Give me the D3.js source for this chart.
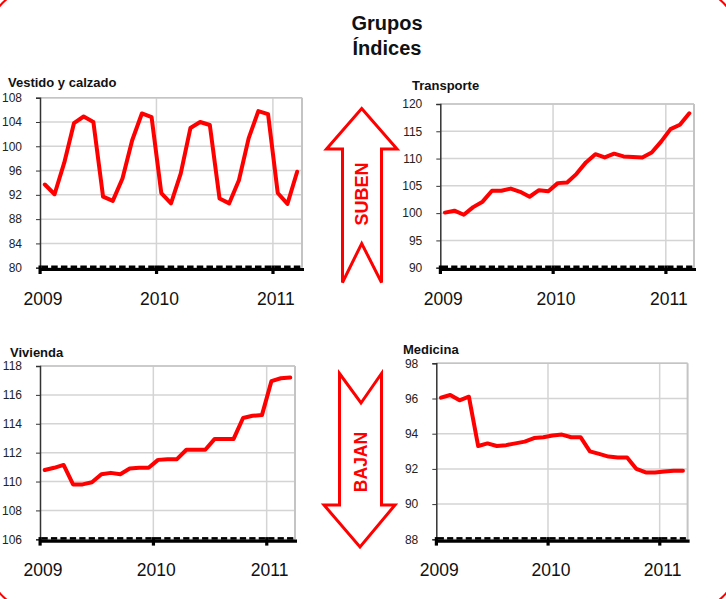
<!DOCTYPE html>
<html><head><meta charset="utf-8">
<script src="https://cdn.jsdelivr.net/npm/d3@7"></script>
<style>body{margin:0;background:#fff}svg{display:block;font-family:"Liberation Sans",Arial,sans-serif}</style>
</head><body><svg id="c" width="726" height="599"></svg>
<script>
// ---- data ----
const months = d3.range(27).map(i => new Date(2009, i, 1)); // Jan 2009 .. Mar 2011
const yearLabels = ["2009", "2010", "2011"];
const vestido = [93.7,92.1,97.3,103.8,104.9,104.0,91.7,91.0,94.7,101.0,105.4,104.8,92.3,90.6,95.5,103.0,104.0,103.5,91.4,90.6,94.4,101.3,105.8,105.3,92.3,90.5,95.8];
const transporte = [100.1,100.45,99.7,101.1,102.1,104.1,104.1,104.5,103.9,103.0,104.2,104.0,105.5,105.6,107.2,109.3,110.8,110.2,110.9,110.4,110.3,110.2,111.1,113.1,115.4,116.2,118.3];
const vivienda = [110.8,110.95,111.15,109.8,109.8,109.95,110.5,110.6,110.5,110.9,110.95,110.95,111.5,111.55,111.55,112.2,112.2,112.2,112.95,112.95,112.95,114.4,114.55,114.6,116.95,117.15,117.2];
const medicina = [96.05,96.2,95.9,96.1,93.3,93.45,93.3,93.35,93.45,93.55,93.75,93.8,93.9,93.95,93.8,93.8,93.0,92.85,92.7,92.65,92.65,92.0,91.8,91.8,91.85,91.9,91.9];
const vestidoTicks = [80,84,88,92,96,100,104,108];
const transporteTicks = [90,95,100,105,110,115,120];
const viviendaTicks = [106,108,110,112,114,116,118];
const medicinaTicks = [88,90,92,94,96,98];
const titles = ["Vestido y calzado","Transporte","Vivienda","Medicina"];

const svg = d3.select("#c");
const RED = "#ff0000";

// outer rounded border (mostly outside the view, only corners show)
svg.append("rect").attr("x",-9).attr("y",-9).attr("width",744).attr("height",617)
  .attr("rx",40).attr("fill","none").attr("stroke",RED).attr("stroke-width",2);

// main title
svg.append("text").attr("x",387).attr("y",30).attr("text-anchor","middle")
  .attr("font-size",20).attr("font-weight","bold").attr("fill","#111").text("Grupos");
svg.append("text").attr("x",387).attr("y",55).attr("text-anchor","middle")
  .attr("font-size",20).attr("font-weight","bold").attr("fill","#111").text("Índices");

const panels = [
  {title:titles[0], data:vestido, ticks:vestidoTicks, L:40, R:302, T:97.7, B:267.7, tx:8, ty:87},
  {title:titles[1], data:transporte, ticks:transporteTicks, L:440.3, R:694, T:104, B:267.7, tx:412, ty:90},
  {title:titles[2], data:vivienda, ticks:viviendaTicks, L:40, R:295, T:366, B:539.3, tx:10, ty:357},
  {title:titles[3], data:medicina, ticks:medicinaTicks, L:436.3, R:687.6, T:363.3, B:539.3, tx:403, ty:354}
];

panels.forEach(p => {
  const g = svg.append("g");
  const x = d3.scaleBand().domain(months).range([p.L, p.R]).padding(0);
  const y = d3.scaleLinear().domain(d3.extent(p.ticks)).range([p.B, p.T]);
  const cx = d => x(d) + x.bandwidth()/2;
  const yearStarts = months.filter(m => m.getMonth() === 0);

  // horizontal grid
  g.selectAll("line.hg").data(p.ticks).join("line")
    .attr("x1",p.L).attr("x2",p.R).attr("y1",d=>y(d)).attr("y2",d=>y(d))
    .attr("stroke","#d4d4d4").attr("stroke-width",1.5);
  // vertical grid at years
  g.selectAll("line.vg").data(yearStarts.slice(1)).join("line")
    .attr("x1",d=>x(d)).attr("x2",d=>x(d)).attr("y1",p.T).attr("y2",p.B)
    .attr("stroke","#d4d4d4").attr("stroke-width",1.5);
  // right / top border
  g.append("line").attr("x1",p.R).attr("x2",p.R).attr("y1",p.T).attr("y2",p.B)
    .attr("stroke","#c4c4c4").attr("stroke-width",2);
  g.append("line").attr("x1",p.L).attr("x2",p.R).attr("y1",p.T).attr("y2",p.T)
    .attr("stroke","#c4c4c4").attr("stroke-width",1.5);

  // y axis
  const ya = d3.axisLeft(y).tickValues(p.ticks).tickSize(4).tickPadding(14).tickFormat(d3.format("d"));
  const yg = g.append("g").attr("transform",`translate(${p.L},0)`).call(ya);
  yg.select(".domain").attr("stroke","#333").attr("stroke-width",1.5);
  yg.selectAll(".tick line").attr("stroke","#333");
  yg.selectAll("text").attr("font-size",12).attr("fill","#222").attr("font-family","'Liberation Sans',Arial,sans-serif");

  // line
  const line = d3.line().x((d,i)=>cx(months[i])).y(d=>y(d)).curve(d3.curveLinear);
  g.append("path").datum(p.data).attr("d",line).attr("fill","none")
    .attr("stroke",RED).attr("stroke-width",4).attr("stroke-linejoin","round").attr("stroke-linecap","round");

  // x axis: thick line with month dashes on top
  g.append("line").attr("x1",p.L-1).attr("x2",p.R+2).attr("y1",p.B+1.8).attr("y2",p.B+1.8)
    .attr("stroke","#000").attr("stroke-width",3.2);
  g.selectAll("rect.md").data(months).join("rect")
    .attr("x",d=>x(d)+1.5).attr("y",p.B-2.2).attr("width",x.bandwidth()-3.2).attr("height",2.6)
    .attr("fill","#000");
  // major ticks at years
  g.selectAll("rect.yt").data(yearStarts).join("rect")
    .attr("x",d=>x(d)-1.5).attr("y",p.B-2.2).attr("width",3.2).attr("height",8.5).attr("fill","#000");
  // year labels
  g.selectAll("text.yl").data(yearStarts).join("text")
    .attr("x",d=>x(d)+3).attr("y",p.B+37).attr("text-anchor","middle")
    .attr("font-size",17.5).attr("fill","#111").text((d,i)=>yearLabels[i]);

  // title
  g.append("text").attr("x",p.tx).attr("y",p.ty).attr("font-size",13).attr("font-weight","bold")
    .attr("fill","#111").text(p.title);
});

// arrows
const up = [[361.7,108.5],[397,149],[381.5,149],[381.5,282.5],[361.7,243.5],[342.5,282.5],[342.5,149],[326.5,149]];
const down = [[339.5,373.5],[361,403],[381.5,373.5],[381.5,505],[395,505],[360,547],[324,505],[339.5,505]];
const lineGen = d3.line().curve(d3.curveLinearClosed);
svg.append("path").attr("d",lineGen(up)).attr("fill","#fff").attr("stroke",RED).attr("stroke-width",3).attr("stroke-linejoin","miter");
svg.append("path").attr("d",lineGen(down)).attr("fill","#fff").attr("stroke",RED).attr("stroke-width",3).attr("stroke-linejoin","miter");
svg.append("text").attr("transform","translate(368,194) rotate(-90)").attr("text-anchor","middle")
  .attr("font-size",18).attr("font-weight","bold").attr("fill",RED).text("SUBEN");
svg.append("text").attr("transform","translate(366.5,462) rotate(-90)").attr("text-anchor","middle")
  .attr("font-size",17.5).attr("font-weight","bold").attr("fill",RED).text("BAJAN");
</script></body></html>
